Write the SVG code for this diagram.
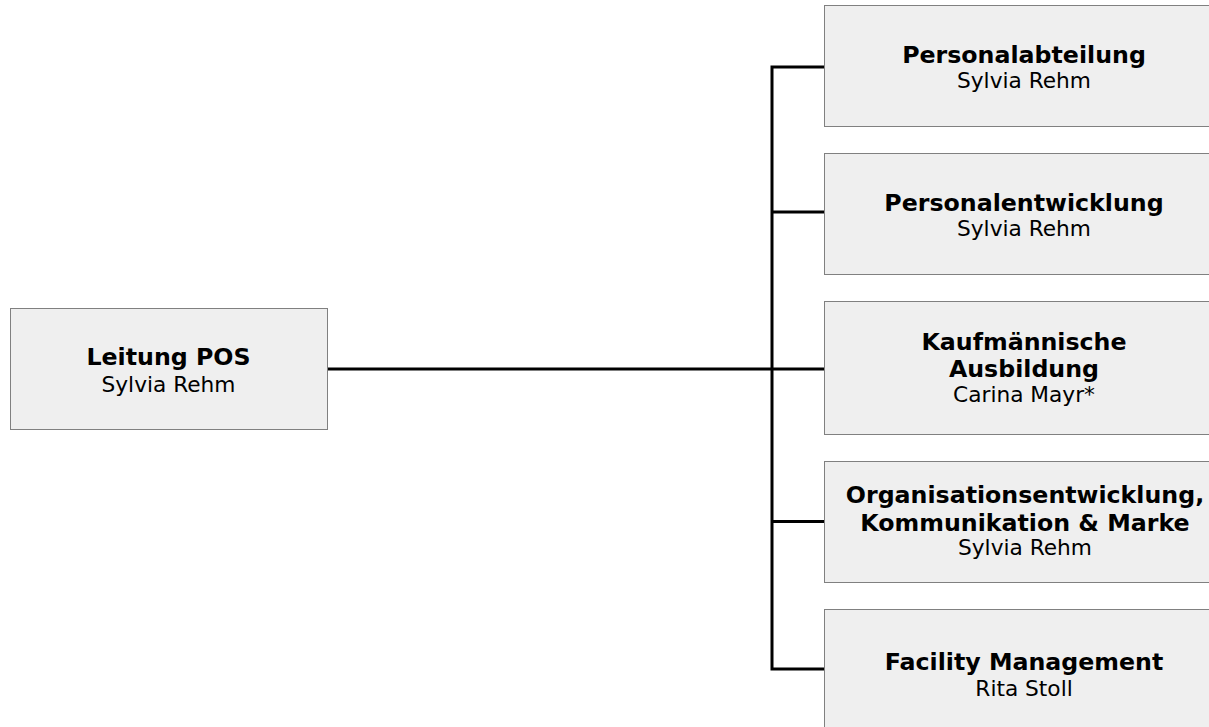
<svg xmlns="http://www.w3.org/2000/svg" width="1209" height="727" viewBox="0 0 1209 727">
<style>
.box{fill:#efefef;stroke:#808080;stroke-width:1}
.t{font-family:"DejaVu Sans",Verdana,sans-serif;font-weight:bold;font-size:23.7px;fill:#000;text-anchor:middle}
.n{font-family:"DejaVu Sans",Verdana,sans-serif;font-size:21.7px;fill:#000;text-anchor:middle}
.c{fill:none;stroke:#000;stroke-width:3}
</style>
<rect width="1209" height="727" fill="#fff"/>
<g id="connectors">
<path class="c" d="M824,67 H772 V669 H824"/>
<path class="c" d="M327,369 H824"/>
<path class="c" d="M772,212 H824"/>
<path class="c" d="M772,521.5 H824"/>
</g>
<g id="leitung">
<rect class="box" x="10.5" y="308.5" width="317" height="121"/>
<text class="t" x="168.5" y="365">Leitung POS</text>
<text class="n" x="168.5" y="392">Sylvia Rehm</text>
</g>
<g id="personalabteilung">
<rect class="box" x="824.5" y="5.5" width="400" height="121"/>
<text class="t" x="1024" y="63">Personalabteilung</text>
<text class="n" x="1024" y="88">Sylvia Rehm</text>
</g>
<g id="personalentwicklung">
<rect class="box" x="824.5" y="153.5" width="400" height="121"/>
<text class="t" x="1024" y="211">Personalentwicklung</text>
<text class="n" x="1024" y="236">Sylvia Rehm</text>
</g>
<g id="ausbildung">
<rect class="box" x="824.5" y="301.5" width="400" height="133"/>
<text class="t" x="1024" y="350">Kaufmännische</text>
<text class="t" x="1024" y="377">Ausbildung</text>
<text class="n" x="1024" y="402">Carina Mayr*</text>
</g>
<g id="organisation">
<rect class="box" x="824.5" y="461.5" width="400" height="121"/>
<text class="t" x="1025" y="503">Organisationsentwicklung,</text>
<text class="t" x="1025" y="530.5">Kommunikation &amp; Marke</text>
<text class="n" x="1025" y="555">Sylvia Rehm</text>
</g>
<g id="facility">
<rect class="box" x="824.5" y="609.5" width="400" height="121"/>
<text class="t" x="1024" y="670">Facility Management</text>
<text class="n" x="1024" y="696">Rita Stoll</text>
</g>
</svg>
